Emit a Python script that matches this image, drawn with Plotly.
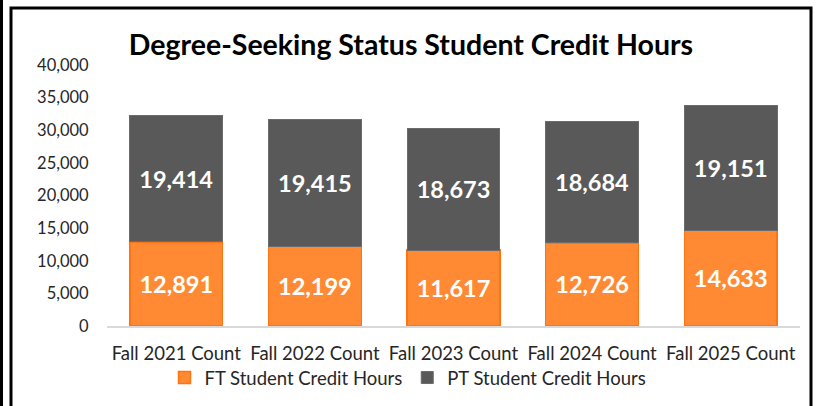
import plotly.graph_objects as go

# data
categories = ['Fall 2021 Count', 'Fall 2022 Count', 'Fall 2023 Count',
              'Fall 2024 Count', 'Fall 2025 Count']
ft_hours = [12891, 12199, 11617, 12726, 14633]
pt_hours = [19414, 19415, 18673, 18684, 19151]

ORANGE = '#FF8A33'
ORANGE_EDGE = '#FF7410'
GREY = '#595959'
FONT = 'Lato'

label_font = dict(color='white', size=23.5, family=FONT, weight='bold')

fig = go.Figure()
fig.add_trace(go.Bar(name='FT Student Credit Hours', x=categories, y=ft_hours,
                     marker=dict(color=ORANGE, line=dict(color=ORANGE_EDGE, width=1.5)),
                     texttemplate='%{y:,}', textposition='inside',
                     insidetextanchor='middle', textangle=0, textfont=label_font))
fig.add_trace(go.Bar(name='PT Student Credit Hours', x=categories, y=pt_hours,
                     marker=dict(color=GREY, line=dict(color='#6b6b6b', width=1)),
                     texttemplate='%{y:,}', textposition='inside',
                     insidetextanchor='middle', textangle=0, textfont=label_font))

fig.update_layout(
    width=817, height=406,
    barmode='stack', bargap=0.33,
    paper_bgcolor='white', plot_bgcolor='white',
    font=dict(family=FONT, color='#262626', size=16),
    margin=dict(l=107, r=17, t=65, b=80),
    title=dict(text='<b>Degree-Seeking Status Student Credit Hours</b>',
               x=0.503, xanchor='center', xref='container',
               y=1 - 45 / 406, yanchor='middle',
               font=dict(size=28.5, color='black', family=FONT)),
    legend=dict(orientation='h', xref='container', yref='container',
                x=408 / 817, xanchor='center', y=1 - 378 / 406, yanchor='middle',
                bgcolor='rgba(0,0,0,0)',
                font=dict(size=18.5, color='#262626'), traceorder='normal'),
)
fig.update_traces(constraintext='none')
fig.update_xaxes(showline=True, linecolor='#D9D9D9', linewidth=2, showgrid=False,
                 ticks='outside', ticklen=10, tickcolor='rgba(0,0,0,0)',
                 tickfont=dict(size=18.5, color='#262626'), automargin=False)
fig.update_yaxes(range=[0, 40000], dtick=5000, tickformat=',', showgrid=False,
                 zeroline=False, showline=False,
                 ticks='outside', ticklen=14, tickcolor='rgba(0,0,0,0)',
                 tickfont=dict(size=16.5, color='#262626'), automargin=False)

# chart frame and the outer line on the left
def px_x(px):
    return (px - 107) / 693

def px_y(py):
    return (325.7 - py) / 260.7

fig.add_shape(type='rect', xref='paper', yref='paper',
              x0=px_x(11), x1=px_x(811), y0=px_y(430), y1=px_y(8),
              line=dict(color='black', width=3), fillcolor='rgba(0,0,0,0)', layer='above')
fig.add_shape(type='line', xref='paper', yref='paper',
              x0=px_x(1.5), x1=px_x(1.5), y0=px_y(430), y1=px_y(-10),
              line=dict(color='black', width=3))

# the page body has a default margin; drop it so the figure sits at the corner
fig.write_html('out.html', config={'displayModeBar': False},
               post_script="document.body.style.margin='0';")
